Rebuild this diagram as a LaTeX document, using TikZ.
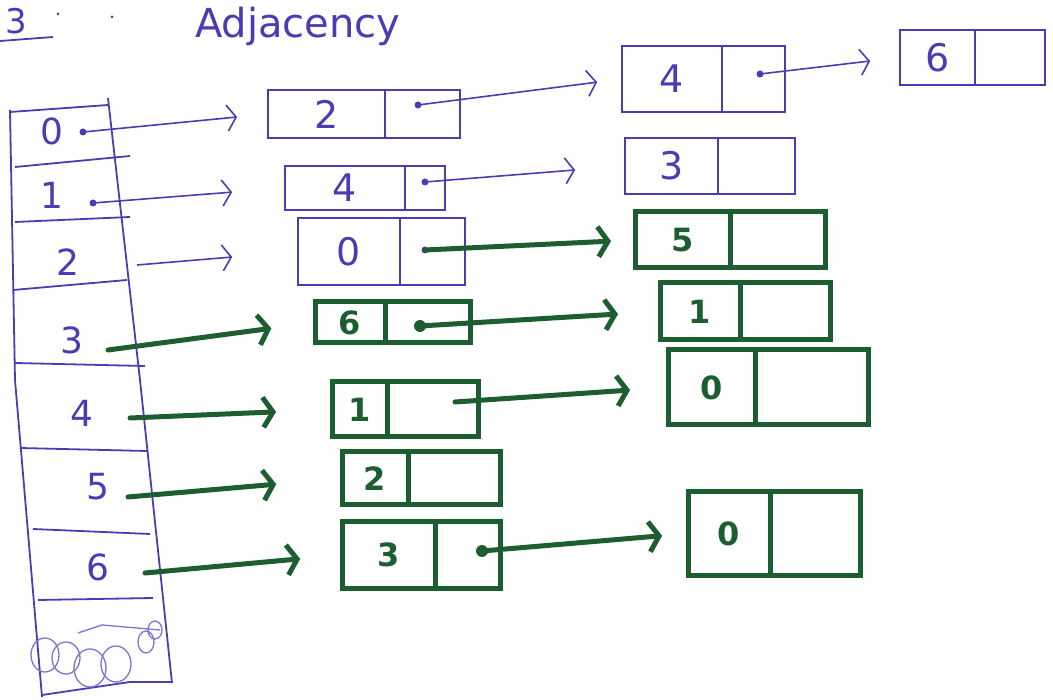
\documentclass[tikz,border=0pt]{standalone}
\usepackage{fontspec}
\setmainfont{DejaVu Sans}
\usetikzlibrary{arrows.meta}
\definecolor{pen}{HTML}{4B3CB4}
\definecolor{penlight}{HTML}{7F74D0}
\definecolor{ink}{HTML}{1C5E2F}

% one list element: value cell and pointer cell side by side
% #1 name, #2 look, #3 left x, #4 divider x, #5 right x, #6 top y, #7 bottom y, #8 value
\newcommand\twocell[8]{%
  \node[cellbox=#2, minimum width={#4pt-#3pt}, minimum height={#7pt-#6pt}]
    (#1v) at ({(#3+#4)/2},{(#6+#7)/2}) {#8};
  \node[cellbox=#2, minimum width={#5pt-#4pt}, minimum height={#7pt-#6pt}]
    (#1p) at ({(#4+#5)/2},{(#6+#7)/2}) {};
}

\begin{document}
\begin{tikzpicture}[x=1pt,y=-1pt,
  cellbox/.style={rectangle, inner sep=0pt, outer sep=0pt, #1},
  bluebox/.style={draw=pen, line width=1.8pt, text=pen,
    font=\fontsize{38}{38}\selectfont},
  greenbox/.style={draw=ink, line width=5pt, text=ink,
    font=\bfseries\fontsize{32}{32}\selectfont},
  bline/.style={draw=pen, line width=1.8pt},
  barrow/.style={draw=pen, line width=1.6pt,
    -{Straight Barb[length=9pt,width=26pt]}},
  garrow/.style={draw=ink, line width=5pt, line cap=round,
    -{Straight Barb[length=10pt,width=30pt]}},
  bdot/.style={fill=pen},
  gdot/.style={fill=ink},
  rowlabel/.style={text=pen, font=\fontsize{36}{36}\selectfont, inner sep=0pt}
]
\useasboundingbox (0,0) rectangle (1053,700);
\fill[white] (0,0) rectangle (1053,700);
\clip (0,0) rectangle (1053,700);

% heading
\node[text=pen, anchor=base west, font=\fontsize{34}{34}\selectfont, inner sep=0pt] (num) at (5,34) {3};
\draw[bline] (0,41) -- (53,37);
\fill[pen] (58,14) circle (1.5);
\fill[pen] (112,17) circle (1.5);
\node[text=pen, anchor=base west, font=\fontsize{40}{40}\selectfont, inner sep=0pt] (title) at (195,38) {Adjacency};

% array of heads
\draw[bline] (10,112) -- (108,105);
\draw[bline] (10,110) -- (15,380) -- (42,697);
\draw[bline] (108,98) -- (140,380) -- (172,683);
\draw[bline] (42,695) -- (130,682) -- (172,682);
\draw[bline] (15,167) -- (130,156);
\draw[bline] (15,222) -- (130,217);
\draw[bline] (13,290) -- (127,280);
\draw[bline] (15,363) -- (145,366);
\draw[bline] (20,448) -- (147,451);
\draw[bline] (33,529) -- (150,534);
\draw[bline] (38,600) -- (153,598);

\node[rowlabel] (r0) at (52,131) {0};
\node[rowlabel] (r1) at (52,195) {1};
\node[rowlabel] (r2) at (68,262) {2};
\node[rowlabel] (r3) at (72,340) {3};
\node[rowlabel] (r4) at (82,413) {4};
\node[rowlabel] (r5) at (98,487) {5};
\node[rowlabel] (r6) at (98,567) {6};

% crossed-out scribble in the last slot
\begin{scope}[draw=penlight, line width=1.3pt]
  \draw (45,655) ellipse (14 and 17);
  \draw (66,658) ellipse (14 and 16);
  \draw (90,668) ellipse (16 and 19);
  \draw (116,664) ellipse (15 and 18);
  \draw (146,642) ellipse (8 and 11);
  \draw (155,630) ellipse (7 and 9);
  \draw (78,633) -- (102,625) -- (160,630);
\end{scope}

% pointer starts in the array
\coordinate (h0) at (83,132);
\coordinate (h1) at (93,203);
\coordinate (h2) at (137,265);
\coordinate (h3) at (108,350);
\coordinate (h4) at (130,418);
\coordinate (h5) at (128,497);
\coordinate (h6) at (145,573);
\fill[bdot] (h0) circle (3.5);
\fill[bdot] (h1) circle (3.5);

% list elements
\twocell{A0}{bluebox}{268}{385}{460}{90}{138}{2}
\twocell{A1}{bluebox}{622}{722}{785}{46}{112}{4}
\twocell{A2}{bluebox}{900}{975}{1045}{30}{85}{6}
\twocell{B0}{bluebox}{285}{405}{445}{166}{210}{4}
\twocell{B1}{bluebox}{625}{718}{795}{138}{194}{3}
\twocell{C0}{bluebox}{298}{400}{465}{218}{285}{0}
\twocell{C1}{greenbox}{635}{730}{825}{212}{268}{5}
\twocell{D0}{greenbox}{315}{385}{470}{302}{343}{6}
\twocell{D1}{greenbox}{660}{740}{830}{283}{340}{1}
\twocell{E0}{greenbox}{332}{387}{478}{382}{437}{1}
\twocell{E1}{greenbox}{668}{755}{868}{350}{425}{0}
\twocell{F0}{greenbox}{342}{408}{500}{452}{505}{2}
\twocell{G0}{greenbox}{342}{435}{500}{522}{588}{3}
\twocell{G1}{greenbox}{688}{770}{860}{492}{575}{0}

% next pointers inside the elements
\coordinate (A0d) at (418,105);
\coordinate (A1d) at (760,74);
\coordinate (B0d) at (425,182);
\coordinate (C0d) at (425,250);
\coordinate (D0d) at (420,326);
\coordinate (E0d) at (455,402);
\coordinate (G0d) at (482,551);
\fill[bdot] (A0d) circle (3.5);
\fill[bdot] (A1d) circle (3.5);
\fill[bdot] (B0d) circle (3.5);
\fill[bdot] (C0d) circle (3.5);
\fill[gdot] (D0d) circle (6);
\fill[gdot] (G0d) circle (6);

% heads to first elements
\draw[barrow, shorten >=31pt] (h0) -- (A0v.west);
\draw[barrow, shorten >=53pt] (h1) -- (B0v.west);
\draw[barrow, shorten >=66pt] (h2) -- (C0v.west);
\draw[garrow, shorten >=44pt] (h3) -- (D0v.west);
\draw[garrow, shorten >=56pt] (h4) -- (E0v.west);
\draw[garrow, shorten >=66pt] (h5) -- (F0v.west);
\draw[garrow, shorten >=42pt] (h6) -- (G0v.west);

% links between elements
\draw[barrow, shorten >=25pt] (A0d) -- (A1v.west);
\draw[barrow, shorten >=30pt] (A1d) -- (A2v.west);
\draw[barrow, shorten >=50pt] (B0d) -- (B1v.west);
\draw[garrow, shorten >=24pt] (C0d) -- (C1v.west);
\draw[garrow, shorten >=42pt] (D0d) -- (D1v.west);
\draw[garrow, shorten >=38pt] (E0d) -- (E1v.west);
\draw[garrow, shorten >=26pt] (G0d) -- (G1v.west);
\end{tikzpicture}
\end{document}
